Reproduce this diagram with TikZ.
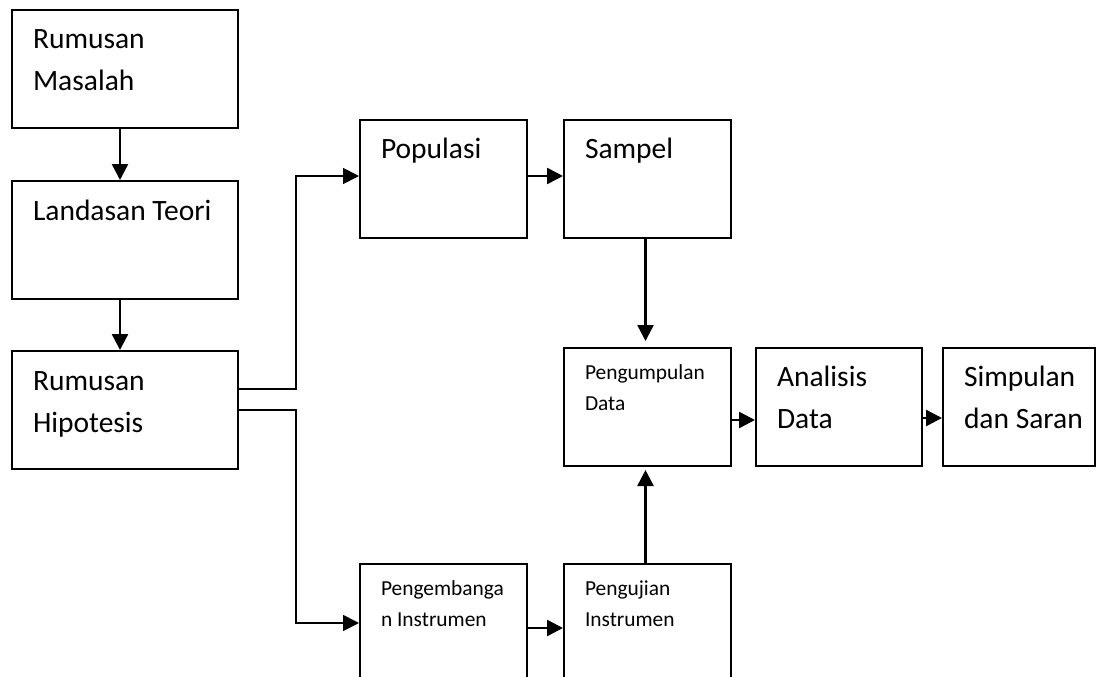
\documentclass[tikz,border=0pt]{standalone}
\usepackage{fontspec}
\setmainfont{Carlito}
\usetikzlibrary{arrows.meta}

\newcommand{\besar}{\fontsize{29.5}{42}\selectfont}
\newcommand{\kecil}{\fontsize{21.4}{31.5}\selectfont}
% width, first baseline, font, text
\newcommand{\isi}[4]{\parbox[t][118pt][t]{#1}{#3\rule{0pt}{#2}#4}}

\begin{document}
\begin{tikzpicture}[x=1pt,y=-1pt,
  kotak/.style={draw, line width=2pt, inner xsep=21pt, inner ysep=0pt, anchor=north west},
  panah/.style={line width=2.5pt, -{Triangle[length=16pt,width=16pt]}},
  garis/.style={line width=1.8pt}]
\useasboundingbox (0,0) rectangle (1109,677);
\clip (0,0) rectangle (1109,677);

\node[kotak] (masalah)   at (11,9)    {\isi{184pt}{39pt}{\besar}{Rumusan\\Masalah}};
\node[kotak] (teori)     at (11,180)  {\isi{184pt}{39pt}{\besar}{Landasan Teori}};
\node[kotak] (hipotesis) at (11,350)  {\isi{184pt}{39pt}{\besar}{Rumusan\\Hipotesis}};

\node[kotak] (populasi)  at (359,119) {\isi{125pt}{38pt}{\besar}{Populasi}};
\node[kotak] (sampel)    at (563,119) {\isi{125pt}{38pt}{\besar}{Sampel}};

\node[kotak] (kumpul)    at (563,347) {\isi{125pt}{31pt}{\kecil}{Pengumpulan\\Data}};
\node[kotak] (analisis)  at (755,347) {\isi{124pt}{38pt}{\besar}{Analisis\\Data}};
\node[kotak] (simpulan)  at (942,347) {\isi{110pt}{38pt}{\besar}{Simpulan\\\mbox{dan Saran}}};

\node[kotak] (kembang)   at (359,563) {\isi{125pt}{31pt}{\kecil}{Pengembanga\\n Instrumen}};
\node[kotak] (uji)       at (563,563) {\isi{125pt}{31pt}{\kecil}{Pengujian\\Instrumen}};

\draw[panah] ([xshift=-5pt]masalah.south) -- ([xshift=-5pt]teori.north);
\draw[panah] ([xshift=-5pt]teori.south) -- ([xshift=-5pt]hipotesis.north);

\draw[panah,garis] ([yshift=21pt]hipotesis.east) -- ++(57,0) |- ([yshift=3pt]populasi.west);
\draw[panah,garis] (hipotesis.east) -- ++(57,0) |- (kembang.west);

\draw[panah] ([yshift=3pt]populasi.east) -- ([yshift=3pt]sampel.west);
\draw[panah,shorten >=6pt] ([xshift=-2pt]sampel.south) -- ([xshift=-2pt]kumpul.north);
\draw[panah] ([yshift=-5pt]kembang.east) -- ([yshift=-5pt]uji.west);
\draw[panah,shorten >=3pt] ([xshift=-2pt]uji.north) -- ([xshift=-2pt]kumpul.south);
\draw[panah] ([yshift=-13pt]kumpul.east) -- ([yshift=-13pt]analisis.west);
\draw[panah] ([yshift=-11pt]analisis.east) -- ([yshift=-11pt]simpulan.west);

\end{tikzpicture}
\end{document}
